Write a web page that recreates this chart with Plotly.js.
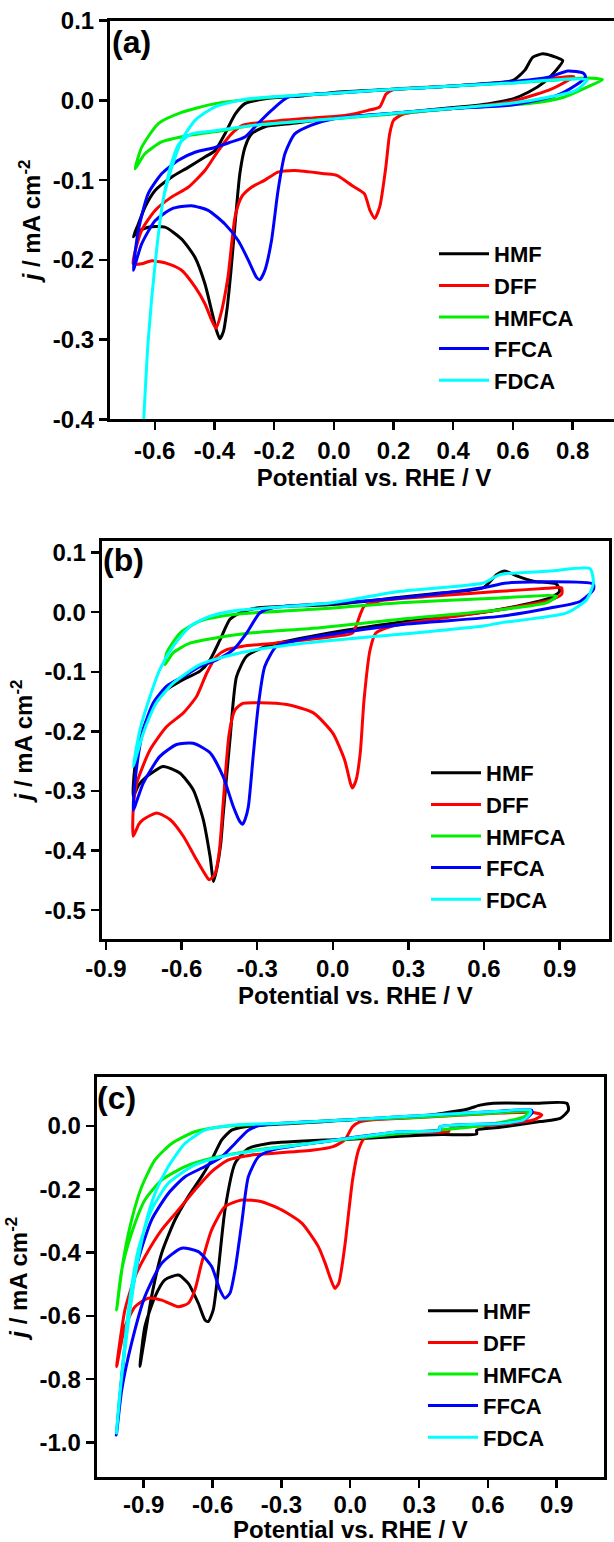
<!DOCTYPE html>
<html>
<head>
<meta charset="utf-8">
<script src="https://cdn.plot.ly/plotly-3.0.1.min.js"></script>
<style>
html,body{margin:0;padding:0;overflow:hidden;background:#fff;}
#plot{width:640px;height:1560px;}
</style>
</head>
<body>
<div id="plot"></div>
<script>
// ---------- series names & colours ----------
const seriesNames = ['HMF', 'DFF', 'HMFCA', 'FFCA', 'FDCA'];
const seriesColors = ['#000000', '#ff0000', '#00ee00', '#0000ff', '#00ffff'];

// ---------- tick values / labels ----------
const aXTicks = [-0.6, -0.4, -0.2, 0.0, 0.2, 0.4, 0.6, 0.8];
const aXLabels = ['-0.6', '-0.4', '-0.2', '0.0', '0.2', '0.4', '0.6', '0.8'];
const aYTicks = [-0.4, -0.3, -0.2, -0.1, 0.0, 0.1];
const aYLabels = ['-0.4', '-0.3', '-0.2', '-0.1', '0.0', '0.1'];
const bXTicks = [-0.9, -0.6, -0.3, 0.0, 0.3, 0.6, 0.9];
const bXLabels = ['-0.9', '-0.6', '-0.3', '0.0', '0.3', '0.6', '0.9'];
const bYTicks = [-0.5, -0.4, -0.3, -0.2, -0.1, 0.0, 0.1];
const bYLabels = ['-0.5', '-0.4', '-0.3', '-0.2', '-0.1', '0.0', '0.1'];
const cXTicks = [-0.9, -0.6, -0.3, 0.0, 0.3, 0.6, 0.9];
const cXLabels = ['-0.9', '-0.6', '-0.3', '0.0', '0.3', '0.6', '0.9'];
const cYTicks = [-1.0, -0.8, -0.6, -0.4, -0.2, 0.0];
const cYLabels = ['-1.0', '-0.8', '-0.6', '-0.4', '-0.2', '0.0'];
const xTitleText = 'Potential vs. RHE / V';
const yTitleText = '<i>j</i> / mA cm<sup>-2</sup>';

// ---------- panel (a) data: potential (V) and current density (mA cm-2) ----------
const aHMF_V = [0.767,0.73,0.70,0.666,0.64,0.60,0.5,0.4,0.2,0.0,-0.1,-0.23,-0.298,-0.33,-0.365,-0.398,-0.432,-0.488,-0.543,-0.599,-0.633,-0.655,-0.672,
  -0.66,-0.622,-0.566,-0.51,-0.465,-0.432,-0.41,-0.393,-0.382,-0.37,-0.358,-0.345,-0.331,-0.315,-0.298,-0.276,-0.231,-0.142,0.0,0.2,0.4,0.52,0.60,0.653,0.705,0.745,0.767];
const aHMF_J = [0.050,0.056,0.0585,0.054,0.038,0.025,0.021,0.018,0.014,0.010,0.006,0.002,-0.004,-0.017,-0.042,-0.063,-0.071,-0.084,-0.096,-0.113,-0.134,-0.155,-0.171,
  -0.165,-0.159,-0.159,-0.174,-0.197,-0.23,-0.263,-0.289,-0.299,-0.29,-0.262,-0.215,-0.155,-0.092,-0.059,-0.042,-0.033,-0.029,-0.022,-0.016,-0.009,-0.004,0.002,0.0105,0.023,0.038,0.050];

const aDFF_V = [0.804,0.7,0.6,0.4,0.2,0.175,0.154,0.115,0.036,-0.069,-0.2,-0.305,-0.343,-0.387,-0.432,-0.488,-0.543,-0.599,-0.644,-0.672,
  -0.644,-0.61,-0.555,-0.51,-0.465,-0.432,-0.41,-0.395,-0.38,-0.355,-0.331,-0.309,-0.276,-0.231,-0.187,-0.131,-0.03,0.01,0.062,0.102,0.121,0.137,0.154,0.174,0.187,0.2,0.233,0.456,0.587,0.718,0.784,0.804];
const aDFF_J = [0.030,0.026,0.023,0.018,0.0135,0.008,-0.008,-0.0125,-0.019,-0.022,-0.026,-0.031,-0.042,-0.063,-0.088,-0.109,-0.121,-0.138,-0.163,-0.205,
  -0.205,-0.201,-0.205,-0.213,-0.234,-0.255,-0.275,-0.286,-0.27,-0.222,-0.146,-0.121,-0.109,-0.1,-0.09,-0.088,-0.092,-0.094,-0.107,-0.117,-0.138,-0.148,-0.133,-0.084,-0.042,-0.025,-0.017,-0.0084,-0.002,0.0125,0.025,0.030];

const aHMFCA_V = [0.90,0.85,0.72,0.6,0.4,0.2,0.0,-0.208,-0.398,-0.51,-0.588,-0.644,-0.666,
  -0.633,-0.577,-0.488,-0.376,-0.265,-0.03,0.2,0.4,0.653,0.77,0.85,0.90];
const aHMFCA_J = [0.026,0.028,0.025,0.022,0.018,0.014,0.009,0.004,-0.004,-0.015,-0.029,-0.059,-0.086,
  -0.067,-0.052,-0.044,-0.038,-0.031,-0.024,-0.017,-0.010,-0.004,0.004,0.017,0.026];

const aFFCA_V = [0.843,0.837,0.784,0.718,0.587,0.4,0.2,0.0,-0.153,-0.209,-0.254,-0.298,-0.343,-0.398,-0.465,-0.521,-0.577,-0.622,-0.655,-0.672,
  -0.644,-0.599,-0.543,-0.477,-0.421,-0.365,-0.32,-0.287,-0.259,-0.248,-0.231,-0.209,-0.187,-0.164,-0.131,-0.075,0.0,0.2,0.4,0.587,0.745,0.81,0.843];
const aFFCA_J = [0.029,0.034,0.037,0.029,0.023,0.018,0.014,0.009,0.004,-0.0125,-0.029,-0.046,-0.052,-0.059,-0.065,-0.075,-0.092,-0.117,-0.163,-0.213,
  -0.18,-0.151,-0.136,-0.132,-0.138,-0.155,-0.176,-0.2,-0.222,-0.225,-0.213,-0.176,-0.113,-0.067,-0.042,-0.031,-0.023,-0.016,-0.010,-0.006,0.006,0.019,0.029];

const aFDCA_V = [0.85,0.8,0.7,0.6,0.4,0.2,0.0,-0.287,-0.398,-0.465,-0.51,-0.543,-0.572,-0.594,-0.622,-0.645,
  -0.622,-0.594,-0.572,-0.545,-0.52,-0.477,-0.398,-0.265,0.0,0.2,0.4,0.587,0.718,0.81,0.85];
const aFDCA_J = [0.026,0.027,0.025,0.022,0.018,0.014,0.009,0.002,-0.008,-0.025,-0.05,-0.084,-0.125,-0.188,-0.301,-0.46,
  -0.301,-0.188,-0.125,-0.08,-0.055,-0.042,-0.038,-0.031,-0.023,-0.016,-0.010,-0.004,0.004,0.0125,0.026];

// ---------- panel (b) data ----------
const bHMF_V = [0.9,0.888,0.796,0.73,0.683,0.65,0.597,0.4,0.267,0.0,-0.302,-0.368,-0.408,-0.447,-0.487,-0.527,-0.593,-0.659,-0.712,-0.752,-0.785,-0.792,
  -0.77,-0.739,-0.673,-0.607,-0.554,-0.514,-0.487,-0.473,-0.46,-0.445,-0.435,-0.408,-0.382,-0.342,-0.263,-0.051,0.267,0.597,0.73,0.862,0.9];
const bHMF_J = [0.035,0.047,0.052,0.061,0.069,0.063,0.041,0.031,0.025,0.013,0.007,-0.001,-0.012,-0.046,-0.08,-0.099,-0.113,-0.13,-0.158,-0.197,-0.259,-0.309,
  -0.29,-0.276,-0.259,-0.27,-0.298,-0.348,-0.41,-0.452,-0.43,-0.39,-0.34,-0.214,-0.108,-0.074,-0.057,-0.038,-0.017,0.0,0.01,0.024,0.035];

const bDFF_V = [0.908,0.85,0.663,0.4,0.2,0.125,0.078,0.016,-0.232,-0.357,-0.421,-0.461,-0.5,-0.54,-0.593,-0.659,-0.725,-0.778,-0.792,-0.792,
  -0.77,-0.752,-0.699,-0.646,-0.593,-0.54,-0.505,-0.49,-0.468,-0.45,-0.434,-0.411,-0.388,-0.357,-0.289,-0.183,-0.077,0.0,0.047,0.07,0.078,0.093,0.109,0.124,0.148,0.171,0.234,0.4,0.663,0.862,0.908,0.908];
const bDFF_J = [0.041,0.040,0.035,0.027,0.020,0.01,-0.035,-0.04,-0.052,-0.057,-0.063,-0.074,-0.102,-0.141,-0.169,-0.192,-0.231,-0.287,-0.332,-0.376,
  -0.356,-0.348,-0.337,-0.348,-0.376,-0.416,-0.441,-0.449,-0.44,-0.4,-0.315,-0.203,-0.164,-0.153,-0.152,-0.155,-0.169,-0.203,-0.248,-0.287,-0.295,-0.281,-0.236,-0.147,-0.063,-0.035,-0.0235,-0.012,0.004,0.02,0.03,0.041];

const bHMFCA_V = [0.888,0.663,0.267,0.0,-0.395,-0.527,-0.606,-0.659,-0.666,
  -0.633,-0.567,-0.461,-0.329,-0.051,0.267,0.663,0.85,0.888];
const bHMFCA_J = [0.027,0.024,0.016,0.007,-0.004,-0.015,-0.035,-0.068,-0.088,
  -0.068,-0.052,-0.043,-0.035,-0.026,-0.012,0.004,0.016,0.027];

const bFFCA_V = [1.034,0.69,0.597,0.267,0.0,-0.233,-0.289,-0.342,-0.395,-0.461,-0.527,-0.593,-0.659,-0.712,-0.752,-0.778,-0.792,
  -0.752,-0.686,-0.62,-0.554,-0.487,-0.435,-0.395,-0.368,-0.358,-0.348,-0.335,-0.316,-0.296,-0.27,-0.223,-0.131,-0.051,0.267,0.663,0.862,0.981,1.034,1.034];
const bFFCA_J = [0.047,0.049,0.041,0.024,0.015,0.008,-0.001,-0.035,-0.063,-0.08,-0.091,-0.108,-0.124,-0.152,-0.197,-0.259,-0.332,
  -0.287,-0.242,-0.222,-0.22,-0.236,-0.276,-0.326,-0.352,-0.356,-0.348,-0.326,-0.242,-0.158,-0.091,-0.057,-0.046,-0.04,-0.021,-0.007,0.007,0.018,0.038,0.047];

const bFDCA_V = [1.021,0.862,0.663,0.597,0.267,0.0,-0.263,-0.395,-0.488,-0.567,-0.633,-0.686,-0.725,-0.765,-0.792,
  -0.752,-0.7,-0.633,-0.527,-0.395,-0.263,-0.051,0.267,0.597,0.663,0.928,1.007,1.034,1.021];
const bFDCA_J = [0.073,0.069,0.063,0.049,0.035,0.016,0.007,0.002,-0.007,-0.024,-0.057,-0.096,-0.141,-0.197,-0.259,
  -0.203,-0.152,-0.119,-0.088,-0.071,-0.06,-0.049,-0.037,-0.023,-0.018,-0.001,0.021,0.049,0.073];

// ---------- panel (c) data ----------
const cHMF_V = [0.551,0.551,0.653,0.827,0.915,0.951,0.944,0.798,0.624,0.566,0.508,0.3,0.217,0.0,-0.11,-0.458,-0.517,-0.56,-0.604,-0.648,-0.706,-0.764,-0.822,-0.866,-0.895,-0.917,
  -0.895,-0.851,-0.808,-0.749,-0.706,-0.662,-0.633,-0.619,-0.597,-0.575,-0.546,-0.502,-0.444,-0.357,-0.11,0.0,0.217,0.4,0.551];
const cHMF_J = [-0.025,-0.013,-0.004,0.014,0.024,0.05,0.072,0.072,0.072,0.066,0.053,0.03,0.026,0.02,0.014,-0.002,-0.013,-0.044,-0.107,-0.16,-0.223,-0.297,-0.402,-0.539,-0.665,-0.76,
  -0.634,-0.539,-0.486,-0.471,-0.497,-0.56,-0.613,-0.618,-0.581,-0.455,-0.265,-0.118,-0.071,-0.055,-0.044,-0.042,-0.032,-0.027,-0.025];

const cDFF_V = [0.43,0.43,0.653,0.798,0.835,0.798,0.653,0.3,0.1,0.044,0.01,-0.024,-0.075,-0.16,-0.331,-0.434,-0.531,-0.604,-0.677,-0.749,-0.822,-0.895,-0.938,-0.982,-1.018,
  -0.982,-0.938,-0.88,-0.822,-0.749,-0.706,-0.677,-0.648,-0.604,-0.546,-0.473,-0.386,-0.299,-0.211,-0.139,-0.109,-0.084,-0.067,-0.05,-0.024,0.01,0.036,0.061,0.113,0.3,0.43];
const cDFF_J = [-0.017,-0.01,0.005,0.019,0.035,0.043,0.041,0.027,0.02,0.014,-0.002,-0.044,-0.065,-0.076,-0.086,-0.092,-0.107,-0.144,-0.202,-0.265,-0.328,-0.413,-0.476,-0.581,-0.76,
  -0.634,-0.571,-0.544,-0.55,-0.571,-0.56,-0.518,-0.434,-0.328,-0.255,-0.234,-0.239,-0.265,-0.307,-0.381,-0.434,-0.486,-0.513,-0.497,-0.381,-0.171,-0.076,-0.039,-0.028,-0.02,-0.017];

const cHMFCA_V = [0.78,0.6,0.3,0.0,-0.3,-0.531,-0.677,-0.778,-0.851,-0.909,-0.953,-0.989,-1.018,
  -0.996,-0.953,-0.895,-0.822,-0.72,-0.604,-0.458,-0.11,0.2,0.4,0.6,0.76,0.78];
const cHMFCA_J = [0.045,0.04,0.028,0.02,0.008,0.0,-0.018,-0.055,-0.107,-0.192,-0.297,-0.423,-0.581,
  -0.455,-0.339,-0.234,-0.171,-0.128,-0.102,-0.081,-0.049,-0.025,-0.012,0.005,0.03,0.045];

const cFFCA_V = [0.391,0.391,0.653,0.755,0.791,0.791,0.653,0.217,0.0,-0.386,-0.444,-0.502,-0.56,-0.633,-0.72,-0.793,-0.866,-0.924,-0.967,-0.996,-1.019,
  -0.996,-0.953,-0.895,-0.822,-0.735,-0.662,-0.604,-0.568,-0.546,-0.524,-0.502,-0.473,-0.444,-0.4,-0.342,-0.11,0.217,0.391];
const cFFCA_J = [-0.013,-0.002,0.008,0.019,0.04,0.05,0.047,0.029,0.02,0.003,-0.013,-0.055,-0.097,-0.128,-0.16,-0.213,-0.297,-0.423,-0.602,-0.792,-0.976,
  -0.834,-0.686,-0.539,-0.434,-0.386,-0.397,-0.444,-0.518,-0.544,-0.528,-0.455,-0.307,-0.16,-0.097,-0.076,-0.049,-0.018,-0.013];

const cFDCA_V = [0.391,0.391,0.653,0.755,0.785,0.785,0.653,0.217,0.0,-0.3,-0.502,-0.633,-0.72,-0.793,-0.851,-0.895,-0.938,-0.975,-1.004,-1.019,
  -0.995,-0.967,-0.924,-0.866,-0.793,-0.677,-0.531,-0.11,0.217,0.391];
const cFDCA_J = [-0.013,-0.002,0.008,0.019,0.04,0.05,0.047,0.029,0.02,0.009,0.003,-0.013,-0.055,-0.128,-0.213,-0.318,-0.476,-0.665,-0.844,-0.97,
  -0.78,-0.581,-0.392,-0.265,-0.181,-0.123,-0.092,-0.049,-0.018,-0.013];

// ---------- build ----------
const FONT = 'Liberation Sans, Arial, Helvetica, sans-serif';
const W = 640, H = 1560;
const panels = [
  {key:'a', xa:'x',  ya:'y',  lg:'legend',
   V:[aHMF_V,aDFF_V,aHMFCA_V,aFFCA_V,aFDCA_V], J:[aHMF_J,aDFF_J,aHMFCA_J,aFFCA_J,aFDCA_J]},
  {key:'b', xa:'x2', ya:'y2', lg:'legend2',
   V:[bHMF_V,bDFF_V,bHMFCA_V,bFFCA_V,bFDCA_V], J:[bHMF_J,bDFF_J,bHMFCA_J,bFFCA_J,bFDCA_J]},
  {key:'c', xa:'x3', ya:'y3', lg:'legend3',
   V:[cHMF_V,cDFF_V,cHMFCA_V,cFFCA_V,cFDCA_V], J:[cHMF_J,cDFF_J,cHMFCA_J,cFFCA_J,cFDCA_J]}
];

const traces = [];
panels.forEach(p => {
  seriesNames.forEach((nm, i) => {
    traces.push({
      x: p.V[i], y: p.J[i], xaxis: p.xa, yaxis: p.ya,
      type: 'scatter', mode: 'lines', name: nm, legend: p.lg,
      line: {color: seriesColors[i], width: 3, shape: 'spline', smoothing: 0.6},
      hoverinfo: 'skip'
    });
  });
});

const tickFont = {family: FONT, size: 24, color: '#000', weight: 'bold'};
const titleFont = {family: FONT, size: 24, color: '#000', weight: 'bold'};
function xAxis(px0, px1, range, vals, labels, anchor, title, so, tls) {
  return {
    domain: [px0 / W, px1 / W], range: range, anchor: anchor,
    tickmode: 'array', tickvals: vals, ticktext: labels,
    showline: true, linewidth: 3, linecolor: '#000', mirror: true,
    ticks: 'outside', ticklen: 8, tickwidth: 2.5, tickcolor: '#000',
    ticklabelstandoff: tls,
    showgrid: false, zeroline: false, tickfont: tickFont,
    title: {text: title, font: titleFont, standoff: so}
  };
}
function yAxis(pyTop, pyBot, range, vals, labels, anchor) {
  return {
    domain: [1 - pyBot / H, 1 - pyTop / H], range: range, anchor: anchor,
    tickmode: 'array', tickvals: vals, ticktext: labels,
    showline: true, linewidth: 3, linecolor: '#000', mirror: true,
    ticks: 'outside', ticklen: 8, tickwidth: 2.5, tickcolor: '#000',
    showgrid: false, zeroline: false, tickfont: tickFont,
    title: {text: yTitleText, font: titleFont, standoff: 6}
  };
}
function legendAt(pxLeft, pyTop) {
  return {
    x: pxLeft / W, y: 1 - pyTop / H, xanchor: 'left', yanchor: 'top',
    bgcolor: 'rgba(0,0,0,0)', borderwidth: 0, itemwidth: 50,
    font: {family: FONT, size: 22, color: '#000', weight: 'bold'}
  };
}
function panelLabel(txt, px, py) {
  return {
    text: txt, xref: 'paper', yref: 'paper', x: px / W, y: 1 - py / H,
    xanchor: 'left', yanchor: 'middle', showarrow: false,
    font: {family: FONT, size: 32, color: '#000', weight: 'bold'}
  };
}

const layout = {
  width: W, height: H, margin: {l: 0, r: 0, t: 0, b: 0},
  paper_bgcolor: '#fff', plot_bgcolor: '#fff', showlegend: true,
  xaxis:  xAxis(110, 638, [-0.75, 1.019], aXTicks, aXLabels, 'y', xTitleText, 6, 0),
  yaxis:  yAxis(20.7, 419.3, [-0.4, 0.1], aYTicks, aYLabels, 'x'),
  xaxis2: xAxis(101.7, 609, [-0.917, 1.096], bXTicks, bXLabels, 'y2', xTitleText, 4, -2),
  yaxis2: yAxis(540.7, 939.3, [-0.549, 0.12], bYTicks, bYLabels, 'x2'),
  xaxis3: xAxis(96.7, 604, [-1.105, 1.106], cXTicks, cXLabels, 'y3', '', 0, -4),
  yaxis3: yAxis(1077.3, 1477.3, [-1.11, 0.154], cYTicks, cYLabels, 'x3'),
  legend:  legendAt(434, 233),
  legend2: legendAt(426, 752),
  legend3: legendAt(423, 1290),
  annotations: [
    panelLabel('(a)', 110, 41.5),
    panelLabel('(b)', 101, 560),
    panelLabel('(c)', 95, 1098),
    {text: xTitleText, xref: 'paper', yref: 'paper', x: 350 / W, y: 1 - 1529.5 / H,
     xanchor: 'center', yanchor: 'middle', showarrow: false, font: titleFont}
  ]
};

Plotly.newPlot('plot', traces, layout, {staticPlot: true, displayModeBar: false});
</script>
</body>
</html>
